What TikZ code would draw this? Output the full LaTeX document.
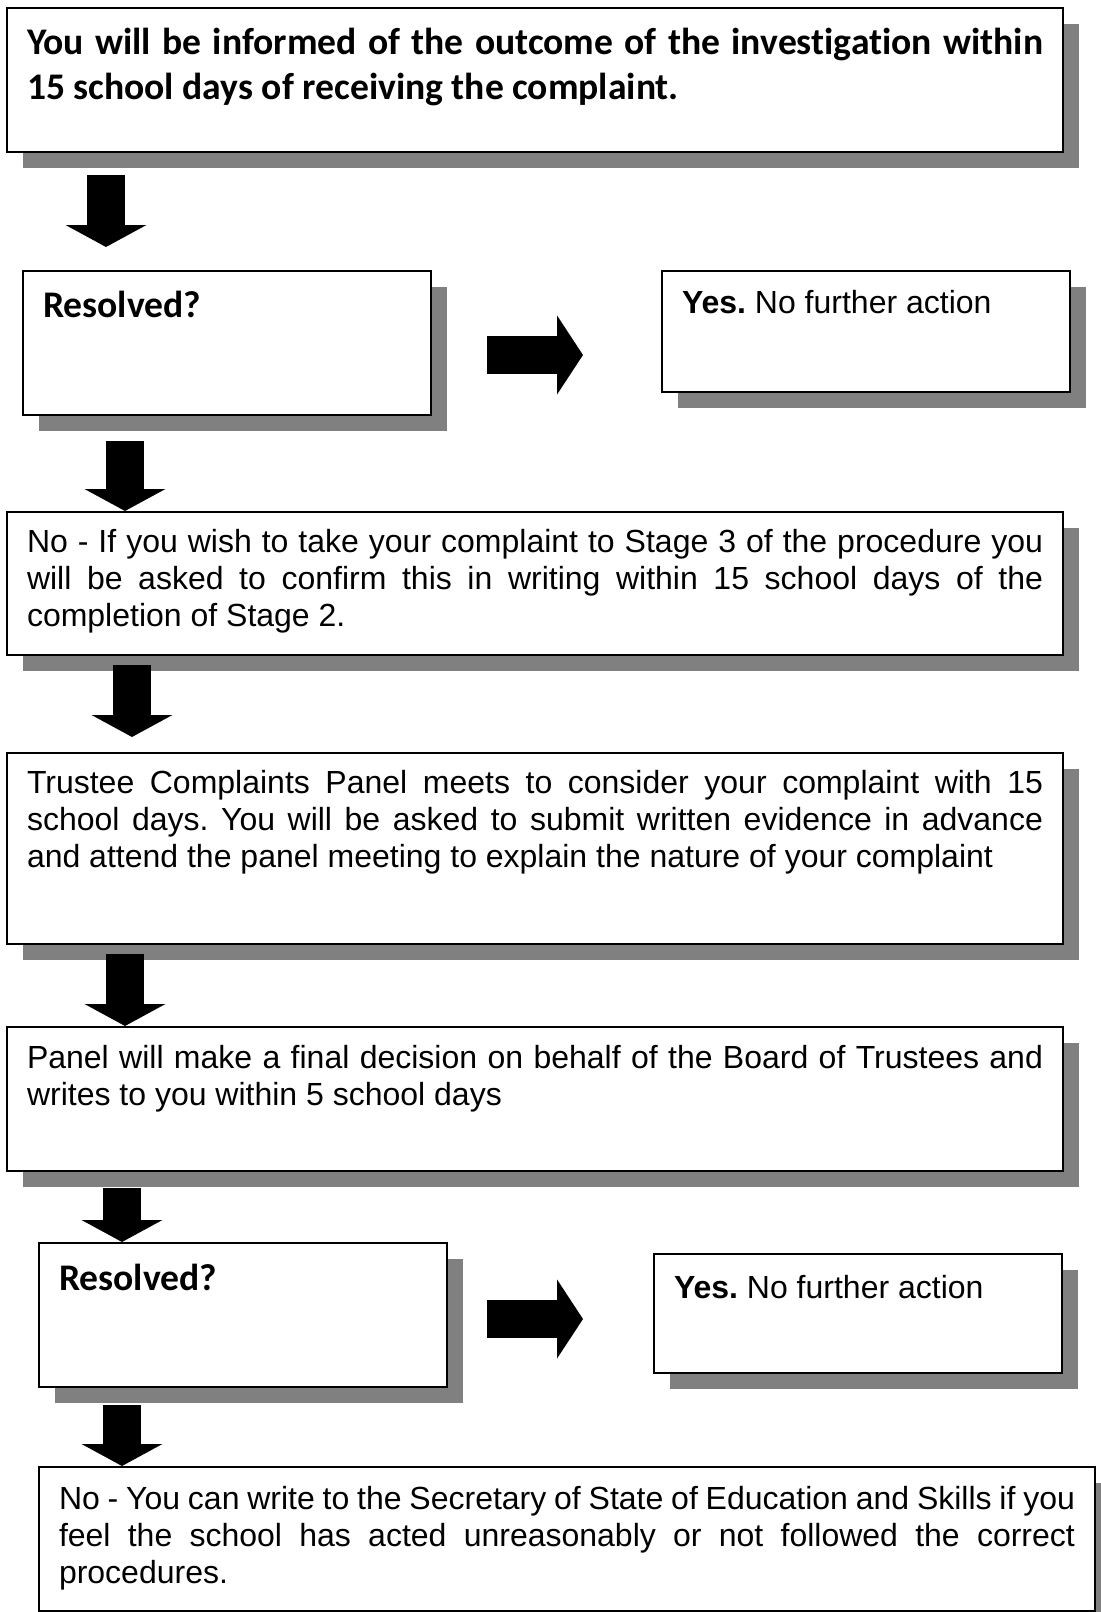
\documentclass[tikz,border=0pt]{standalone}
\usepackage{fontspec}
\setmainfont{Liberation Sans}
\newfontfamily\calibri[Ligatures=NoCommon]{Carlito}
\usetikzlibrary{arrows.meta,shadows}
\frenchspacing
\hyphenpenalty=10000
\exhyphenpenalty=10000

\tikzset{
	box/.style={draw, line width=1pt, fill=white, anchor=north west, inner xsep=10pt, inner ysep=0pt,
		align=justify, font=\fontsize{16}{18.5}\selectfont,
		drop shadow={shadow xshift=8pt, shadow yshift=-8pt, fill=black!50, opacity=1}},
	wide/.style={box, text width=508pt},
	small/.style={box, text width=184pt},
	heading/.style={font=\calibri\bfseries\fontsize{18.8}{22.5}\selectfont},
	downarr/.style={line width=19pt, -{Triangle[width=40pt,length=11pt]}},
	rightarr/.style={line width=19pt, -{Triangle[width=39pt,length=13pt]}},
}

\begin{document}
\begin{tikzpicture}[x=0.5pt, y=-0.5pt]
	\useasboundingbox (0,0) rectangle (1100,1612);
	% boxes
	\node[wide, heading, text height=23pt, text depth=49pt] (out) at (6,7)
		{You will be informed of the outcome of the investigation within\linebreak 15 school days of receiving the complaint.};
	\node[small, heading, text height=23pt, text depth=49pt] (res1) at (22,270) {Resolved?};
	\node[small, text height=21pt, text depth=39.5pt] (yes1) at (661,270) {\textbf{Yes.} No further action};
	\node[wide, text height=20pt, text depth=51.5pt] (no1) at (6,511)
		{No - If you wish to take your complaint to Stage 3 of the procedure you\linebreak will be asked to confirm this in writing within 15 school days of the\linebreak completion of Stage 2.};
	\node[wide, text height=20pt, text depth=75.5pt] (trust) at (6,752)
		{Trustee Complaints Panel meets to consider your complaint with 15\linebreak school days. You will be asked to submit written evidence in advance\linebreak and attend the panel meeting to explain the nature of your complaint};
	\node[wide, text height=20.5pt, text depth=51.5pt] (panel) at (6,1026)
		{Panel will make a final decision on behalf of the Board of Trustees and\linebreak writes to you within 5 school days};
	\node[small, heading, text height=23.5pt, text depth=48.5pt] (res2) at (38,1242) {Resolved?};
	\node[small, text height=22pt, text depth=37.5pt] (yes2) at (653,1253) {\textbf{Yes.} No further action};
	\node[wide, text height=21pt, text depth=51pt] (nofin) at (38,1466)
		{No - You can write to the Secretary of State of Education and Skills if you\linebreak feel the school has acted unreasonably or not followed the correct\linebreak procedures.};
	% arrows
	\draw[downarr] ([xshift=50pt,yshift=-11pt]out.south west) -- ([xshift=42pt,yshift=11.5pt]res1.north west);
	\draw[rightarr] ([xshift=27.5pt,yshift=-6pt]res1.east) -- ([xshift=-39pt,yshift=-11.75pt]yes1.west);
	\draw[downarr] ([xshift=51.5pt,yshift=-12.5pt]res1.south west) -- ([xshift=59.5pt]no1.north west);
	\draw[downarr] ([xshift=63pt,yshift=-4.5pt]no1.south west) -- ([xshift=63pt,yshift=7.5pt]trust.north west);
	\draw[downarr] ([xshift=59.5pt,yshift=-4.5pt]trust.south west) -- ([xshift=59.5pt]panel.north west);
	\draw[downarr] ([xshift=58pt,yshift=-8pt]panel.south west) -- ([xshift=42pt]res2.north west);
	\draw[rightarr] ([xshift=19.5pt,yshift=-2pt]res2.east) -- ([xshift=-35pt,yshift=-2.75pt]yes2.west);
	\draw[downarr] ([xshift=42pt,yshift=-8.5pt]res2.south west) -- ([xshift=42pt]nofin.north west);
\end{tikzpicture}
\end{document}
